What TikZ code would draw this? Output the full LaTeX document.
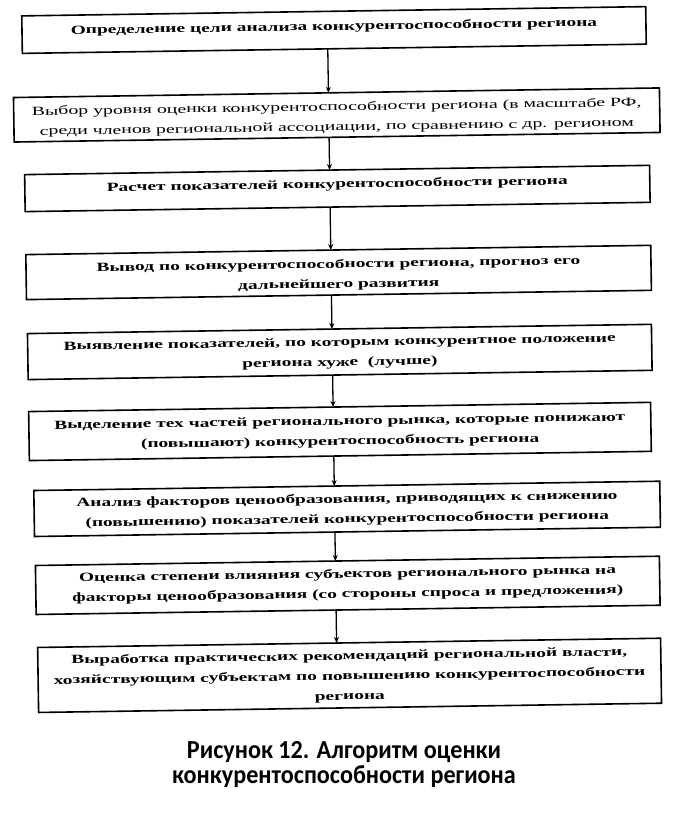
\documentclass[tikz,border=0pt]{standalone}
\usepackage{fontspec}
\usepackage{graphicx}
\setmainfont{Liberation Serif}
\newfontfamily\capfont{Carlito}
\usetikzlibrary{arrows.meta}
\newcommand{\sxb}[1]{\scalebox{1.555}[1]{\fontsize{12.5}{20}\selectfont\bfseries\begin{tabular}{@{}c@{}}#1\end{tabular}}}
\newcommand{\sxr}[1]{\scalebox{1.585}[1]{\fontsize{12.5}{20}\selectfont\begin{tabular}{@{}c@{}}#1\end{tabular}}}
\newcommand{\sxc}[1]{\scalebox{0.93}[1]{\capfont\bfseries\fontsize{26}{24}\selectfont\begin{tabular}{@{}c@{}}#1\end{tabular}}}
\tikzset{
  box/.style={draw=black, line width=1.6pt, inner sep=0pt, outer sep=0pt, fill=none},
  txt/.style={inner sep=0pt, outer sep=0pt, anchor=north},
  arr/.style={line width=1.3pt, -{Stealth[length=6pt,width=5pt]}},
  captext/.style={inner sep=0pt, anchor=center}
}
\begin{document}
\begin{tikzpicture}[x=1pt,y=-1pt]
\useasboundingbox[fill=white] (0,0) rectangle (674,816);
\begin{scope}[rotate around={0.85:(337,400)}, transform shape]
  \coordinate (ax) at (333,0);
  \node[box, minimum width=624pt, minimum height=37.5pt] (b1) at (339.5,30) {};
  \node[box, minimum width=646pt, minimum height=44.5pt] (b2) at (341,115) {};
  \node[box, minimum width=625pt, minimum height=37pt] (b3) at (340.5,188.5) {};
  \node[box, minimum width=625pt, minimum height=45pt] (b4) at (340.5,272.5) {};
  \node[box, minimum width=624pt, minimum height=46pt] (b5) at (340.5,352) {};
  \node[box, minimum width=622pt, minimum height=49pt] (b6) at (339.5,431.5) {};
  \node[box, minimum width=626pt, minimum height=46pt] (b7) at (345.5,509) {};
  \node[box, minimum width=624pt, minimum height=49pt] (b8) at (345,585.5) {};
  \node[box, minimum width=623pt, minimum height=65pt] (b9) at (345.5,675.5) {};

  \node[txt] (t1) at ([yshift=-5pt]b1.north) {\sxb{Определение цели анализа конкурентоспособности региона}};
  \node[txt] (t2) at ([yshift=-4pt]b2.north) {\sxr{Выбор уровня оценки конкурентоспособности региона (в масштабе РФ,\\среди членов региональной ассоциации, по сравнению с др. регионом}};
  \node[txt] (t3) at ([yshift=-4pt]b3.north) {\sxb{Расчет показателей конкурентоспособности региона}};
  \node[txt] (t4) at ([yshift=-4pt]b4.north) {\sxb{Вывод по конкурентоспособности региона, прогноз его\\дальнейшего развития}};
  \node[txt] (t5) at ([yshift=-3pt]b5.north) {\sxb{Выявление показателей, по которым конкурентное положение\\региона хуже~ (лучше)}};
  \node[txt] (t6) at ([yshift=-4pt]b6.north) {\sxb{Выделение тех частей регионального рынка, которые понижают\\(повышают) конкурентоспособность региона}};
  \node[txt] (t7) at ([yshift=-3pt]b7.north) {\sxb{Анализ факторов ценообразования, приводящих к снижению\\(повышению) показателей конкурентоспособности региона}};
  \node[txt] (t8) at ([yshift=-3pt]b8.north) {\sxb{Оценка степени влияния субъектов регионального рынка на\\факторы ценообразования (со стороны спроса и предложения)}};
  \node[txt] (t9) at ([yshift=-3pt]b9.north) {\sxb{Выработка практических рекомендаций региональной власти,\\хозяйствующим субъектам по повышению конкурентоспособности\\региона}};

  \draw[arr] (b1.south -| ax) -- (b2.north -| ax);
  \draw[arr] (b2.south -| ax) -- (b3.north -| ax);
  \draw[arr] (b3.south -| ax) -- (b4.north -| ax);
  \draw[arr] (b4.south -| ax) -- (b5.north -| ax);
  \draw[arr] (b5.south -| ax) -- (b6.north -| ax);
  \draw[arr] (b6.south -| ax) -- (b7.north -| ax);
  \draw[arr] (b7.south -| ax) -- (b8.north -| ax);
  \draw[arr] (b8.south -| ax) -- (b9.north -| ax);
\end{scope}
\node[captext] (cap) at (344,766) {\sxc{Рисунок 12. Алгоритм оценки\\конкурентоспособности региона}};
\end{tikzpicture}
\end{document}
